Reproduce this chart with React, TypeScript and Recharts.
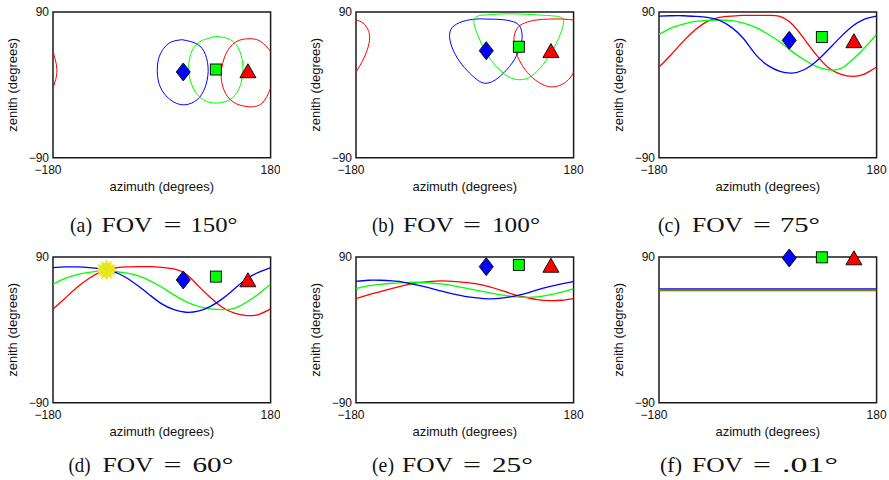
import { ComposedChart, Line, Scatter, XAxis, YAxis, ReferenceArea } from 'recharts'

const BLUE = '#0000ff'
const GREEN = '#00ff00'
const RED = '#ff0000'
const SANS = 'Liberation Sans, Arial, Helvetica, sans-serif'
const SERIF = 'Liberation Serif, Times New Roman, serif'

// azimuth samples for the open traces (panels c-e)
const AZ_GRID = [-180, -160, -140, -120, -100, -80, -60, -40, -20, 0, 20, 40, 60, 80, 100, 120, 140, 160, 180]
const AZ_ENDS = [-180, 180]

// camera azimuths: diamond, square, triangle
const CAM_AZ = [35.5, 89.5, 142.5]

// (a) FOV 150 — closed outlines as [azimuth, zenith]
const A_BLUE = [[33.7, 55.8], [58.5, 50.4], [72.3, 37.3], [76.7, 16.7], [71.2, -3.9], [58.5, -18.3], [39.2, -24.5], [19.9, -21.2], [3.3, -10.1], [-6.1, 6.4], [-6.7, 27], [0.5, 42.2], [14.3, 52.5], [33.7, 55.8]]
const A_GREEN = [[88.9, 59.9], [113.7, 55.8], [129.2, 41.4], [134.2, 20.8], [130.3, 0.2], [116.5, -16.3], [91.7, -22.4], [68.5, -18.3], [51.9, -3.9], [44.7, 16.7], [47.5, 37.3], [61.3, 52.5], [88.9, 59.9]]
const A_RED = [[180, 41.4], [163.4, 53.7], [144.1, 57], [122, 52.9], [105.5, 37.3], [98.3, 14.6], [102.7, -6], [118.2, -21.2], [144.1, -27], [166.2, -22.4], [180, -3.9]]
const A_RED_WRAP = [[-180, 41.4], [-176.2, 31.1], [-173.5, 18.7], [-175.7, 6.4], [-180, -3.9]]
const A_CAM_ZEN = [16, 19, 17.5]

// (b) FOV 100
const B_BLUE = [[35.5, 81.3], [63, 80.5], [85.1, 76.4], [93.4, 68.1], [94.5, 55.8], [87.8, 39.3], [74.1, 22.9], [54.8, 8.4], [38.2, 2.3], [24.5, 4.3], [7.9, 14.6], [-8.6, 29], [-20.7, 45.5], [-25.2, 59.9], [-20.7, 71], [-3.1, 78.4], [19, 81.3], [35.5, 81.3]]
const B_GREEN = [[24.5, 85.8], [57.5, 87.5], [90.6, 87.5], [134.7, 85.8], [159.5, 83.4], [163.4, 76.4], [157.8, 62], [145.7, 43.4], [129.2, 24.9], [109.9, 10.5], [90.6, 6.4], [71.3, 10.5], [52, 22.9], [35.5, 39.3], [23.4, 57.8], [15.6, 74.3], [16.2, 82.5], [24.5, 85.8]]
const B_RED = [[180, 80.1], [162.3, 81.3], [140.2, 81.3], [118.2, 80.1], [98.9, 76.4], [86.2, 69.4], [81.2, 55.8], [85.1, 39.3], [96.1, 22.9], [112.6, 8.4], [132, -0.6], [148.5, -2.3], [165, 2.3], [176, 10.5], [180, 15.9]]
const B_RED_WRAP = [[-180, 80.1], [-168.5, 76.4], [-160.2, 68.1], [-157.4, 57.8], [-161.3, 43.4], [-169.6, 29], [-180, 15.9]]
const B_CAM_ZEN = [42.2, 47.1, 42.4]

// (c) FOV 75 — zenith at AZ_GRID
const C_BLUE = [85, 85.4, 85.4, 84.6, 83.4, 79.7, 71, 57, 37.3, 24.1, 16.7, 14.6, 18.7, 29, 43.4, 58.7, 72.3, 81.3, 85]
const C_GREEN = [62.5, 70.2, 75.1, 78.4, 79.7, 80.1, 79.3, 76.4, 71, 62.8, 52.9, 41.4, 31.1, 22.9, 18.7, 20, 31.1, 45.5, 62.5]
const C_RED = [22, 37.3, 53.7, 68.1, 78.4, 83.4, 85, 85.8, 85.8, 85.8, 84.6, 75.1, 57, 37.3, 21.6, 13.4, 10.5, 13.4, 22]
const C_CAM_ZEN = [55, 59.1, 54.6]

// (d) FOV 60
const D_BLUE = [77, 77.7, 77.7, 76.9, 75.2, 72, 65, 54.7, 43.2, 32.1, 25.1, 21.8, 23.1, 28.8, 38.3, 50.6, 62.9, 71.1, 77]
const D_GREEN = [56.3, 63.7, 68.3, 71.1, 72.8, 72.4, 70.3, 67, 60.9, 52.6, 43.2, 35, 29.2, 25.9, 25.1, 26.7, 34.2, 44.4, 56.3]
const D_RED = [25.9, 39.1, 52.6, 63.7, 72, 76.1, 77.7, 78.1, 78.1, 77.3, 75.2, 69.1, 54.7, 40.3, 28, 20.6, 17.7, 19, 25.9]
const D_CAM_ZEN = [61.7, 65.8, 61.9]
const SUN = { az: -91.5, zen: 74 }

// (e) FOV 25
const E_BLUE = [59.8, 61.3, 61.3, 60.5, 58.8, 55.5, 52.2, 48.1, 44.4, 41.5, 39.5, 38.3, 39.1, 41.5, 44.8, 49.4, 53.5, 56.8, 59.8]
const E_GREEN = [51, 54.3, 56.3, 57.6, 58.4, 58.8, 58, 56.8, 54.7, 51.8, 48.9, 46.1, 43.2, 41.1, 40.3, 40.7, 43.2, 46.5, 51]
const E_RED = [38.7, 43.2, 47.3, 51.4, 55.1, 58, 59.6, 60.5, 60, 58.8, 56.8, 53.5, 48.9, 44, 40.3, 37.4, 36.2, 36.6, 38.7]
const E_CAM_ZEN = [78.1, 80.2, 79.8]

// (f) FOV .01
const F_BLUE = [50.6, 50.6]
const F_GREEN = [49.4, 49.4]
const F_RED = [48.5, 48.5]
const F_CAM_ZEN = [88.8, 89.6, 89]

const TAGS = ['(a)', '(b)', '(c)', '(d)', '(e)', '(f)']
const FOVS = ['150°', '100°', '75°', '60°', '25°', '.01°']

type Pt = { az: number; zen: number }
const pairs = (p: number[][]): Pt[] => p.map(([az, zen]) => ({ az, zen }))
const trace = (az: number[], zen: number[]): Pt[] => az.map((a, i) => ({ az: a, zen: zen[i] }))

type Series = { color: string; data: Pt[] }
type PanelDef = {
  left: number
  top: number
  series: Series[]
  camZen: number[]
  sun?: boolean
  lw: number
  capX: number[]
  fovW: number
  capDy: number
}

const PW = 217.6
const PH = 145.8
const ML = 60
const MT = 12

const PANELS: PanelDef[] = [
  {
    left: 52.7, top: 12, lw: 1,
    series: [
      { color: BLUE, data: pairs(A_BLUE) },
      { color: GREEN, data: pairs(A_GREEN) },
      { color: RED, data: pairs(A_RED) },
      { color: RED, data: pairs(A_RED_WRAP) },
    ],
    camZen: A_CAM_ZEN, capX: [17, 48.5, 110.5, 137.5], fovW: 47, capDy: 74.3,
  },
  {
    left: 356, top: 12, lw: 1,
    series: [
      { color: BLUE, data: pairs(B_BLUE) },
      { color: GREEN, data: pairs(B_GREEN) },
      { color: RED, data: pairs(B_RED) },
      { color: RED, data: pairs(B_RED_WRAP) },
    ],
    camZen: B_CAM_ZEN, capX: [16, 47, 107, 136], fovW: 48, capDy: 74.3,
  },
  {
    left: 659, top: 12, lw: 1.3,
    series: [
      { color: RED, data: trace(AZ_GRID, C_RED) },
      { color: GREEN, data: trace(AZ_GRID, C_GREEN) },
      { color: BLUE, data: trace(AZ_GRID, C_BLUE) },
    ],
    camZen: C_CAM_ZEN, capX: [-1, 33, 94, 121], fovW: 40, capDy: 74.3,
  },
  {
    left: 52.7, top: 256.7, lw: 1.3,
    series: [
      { color: RED, data: trace(AZ_GRID, D_RED) },
      { color: GREEN, data: trace(AZ_GRID, D_GREEN) },
      { color: BLUE, data: trace(AZ_GRID, D_BLUE) },
    ],
    camZen: D_CAM_ZEN, sun: true, capX: [15.5, 49.5, 110.5, 139.5], fovW: 41, capDy: 69.6,
  },
  {
    left: 356, top: 256.7, lw: 1.3,
    series: [
      { color: RED, data: trace(AZ_GRID, E_RED) },
      { color: GREEN, data: trace(AZ_GRID, E_GREEN) },
      { color: BLUE, data: trace(AZ_GRID, E_BLUE) },
    ],
    camZen: E_CAM_ZEN, capX: [16, 46, 107, 136], fovW: 41, capDy: 69.6,
  },
  {
    left: 659, top: 256.7, lw: 1.3,
    series: [
      { color: RED, data: trace(AZ_ENDS, F_RED) },
      { color: GREEN, data: trace(AZ_ENDS, F_GREEN) },
      { color: BLUE, data: trace(AZ_ENDS, F_BLUE) },
    ],
    camZen: F_CAM_ZEN, capX: [1, 33, 94, 123], fovW: 56, capDy: 69.6,
  },
]

const num = (v: number) => (v < 0 ? '\u2212' + Math.abs(v) : String(v))

const XTick = (p: any) => (
  <text x={p.x + (p.payload.value < 0 ? -5 : 0)} y={p.y + 16.5} textAnchor="middle" fontSize={12} fontFamily={SANS} fill="#111">
    {num(p.payload.value)}
  </text>
)

const YTick = (p: any) => (
  <text x={p.x - 4} y={p.y + 4.3} textAnchor="end" fontSize={12} fontFamily={SANS} fill="#111">
    {num(p.payload.value)}
  </text>
)

const Diamond = (p: any) => (
  <polygon points={`${p.cx},${p.cy - 9} ${p.cx + 7},${p.cy} ${p.cx},${p.cy + 9} ${p.cx - 7},${p.cy}`} fill={BLUE} stroke="#111" strokeWidth={1} />
)
const Square = (p: any) => (
  <rect x={p.cx - 5.5} y={p.cy - 5.5} width={11} height={11} fill={GREEN} stroke="#111" strokeWidth={1} />
)
const Triangle = (p: any) => (
  <polygon points={`${p.cx},${p.cy - 7} ${p.cx + 8},${p.cy + 7} ${p.cx - 8},${p.cy + 7}`} fill={RED} stroke="#111" strokeWidth={1} />
)
const Sun = (p: any) => {
  const pts: string[] = []
  for (let i = 0; i < 24; i++) {
    const r = i % 2 === 0 ? 10.5 : 7
    const a = (Math.PI * i) / 12 - Math.PI / 2
    pts.push(`${p.cx + r * Math.cos(a)},${p.cy + r * Math.sin(a)}`)
  }
  return <polygon points={pts.join(' ')} fill="#e6e61c" stroke="#f3f37a" strokeWidth={1} />
}

function Panel({ def, idx }: { def: PanelDef; idx: number }) {
  const xTitle = (lp: any) => {
    const vb = lp.viewBox
    const cy = vb.y + def.capDy
    const x0 = vb.x
    return (
      <g>
        <text x={vb.x + vb.width / 2} y={vb.y + 33} textAnchor="middle" fontSize={13} fontFamily={SANS} fill="#111">
          azimuth (degrees)
        </text>
        <g fontFamily={SERIF} fontSize={20} fill="#111">
          <text x={x0 + def.capX[0]} y={cy} textLength={22} lengthAdjust="spacingAndGlyphs">{TAGS[idx]}</text>
          <text x={x0 + def.capX[1]} y={cy} textLength={51} lengthAdjust="spacingAndGlyphs">FOV</text>
          <text x={x0 + def.capX[2]} y={cy} textLength={18} lengthAdjust="spacingAndGlyphs">=</text>
          <text x={x0 + def.capX[3]} y={cy} textLength={def.fovW} lengthAdjust="spacingAndGlyphs">{FOVS[idx]}</text>
        </g>
      </g>
    )
  }
  const yTitle = (lp: any) => {
    const vb = lp.viewBox
    const x = vb.x + 4.5
    const y = vb.y + vb.height / 2
    return (
      <text x={x} y={y} transform={`rotate(-90 ${x} ${y})`} textAnchor="middle" fontSize={13} fontFamily={SANS} fill="#111">
        zenith (degrees)
      </text>
    )
  }
  return (
    <div style={{ position: 'absolute', left: def.left - ML, top: def.top - MT }}>
      <ComposedChart width={PW + ML + 10} height={PH + MT + 30 + 60} margin={{ top: MT, right: 10, bottom: 60, left: ML - 40 }}>
        <XAxis
          type="number"
          dataKey="az"
          domain={[-180, 180]}
          ticks={[-180, 180]}
          interval={0}
          allowDataOverflow
          axisLine={false}
          tickLine={false}
          tickSize={0}
          tickMargin={0}
          height={30}
          tick={XTick}
          label={{ content: xTitle }}
        />
        <YAxis
          type="number"
          domain={[-90, 90]}
          ticks={[-90, 90]}
          interval={0}
          allowDataOverflow
          axisLine={false}
          tickLine={false}
          tickSize={0}
          tickMargin={0}
          width={40}
          tick={YTick}
          label={{ content: yTitle }}
        />
        {/* unclipped axes for the markers, which may sit on the frame */}
        <XAxis xAxisId="m" type="number" dataKey="az" domain={[-180, 180]} hide />
        <YAxis yAxisId="m" type="number" domain={[-90, 90]} hide />
        {def.series.map((s, i) => (
          <Line
            key={i}
            data={s.data}
            dataKey="zen"
            type="natural"
            stroke={s.color}
            strokeWidth={def.lw}
            dot={false}
            activeDot={false}
            isAnimationActive={false}
          />
        ))}
        <ReferenceArea x1={-180} x2={180} y1={-90} y2={90} fill="none" stroke="#1a1a1a" strokeWidth={1.5} ifOverflow="visible" />
        {def.sun && (
          <Scatter xAxisId="m" yAxisId="m" data={[SUN]} dataKey="zen" shape={Sun} isAnimationActive={false} />
        )}
        <Scatter xAxisId="m" yAxisId="m" data={[{ az: CAM_AZ[0], zen: def.camZen[0] }]} dataKey="zen" shape={Diamond} isAnimationActive={false} />
        <Scatter xAxisId="m" yAxisId="m" data={[{ az: CAM_AZ[1], zen: def.camZen[1] }]} dataKey="zen" shape={Square} isAnimationActive={false} />
        <Scatter xAxisId="m" yAxisId="m" data={[{ az: CAM_AZ[2], zen: def.camZen[2] }]} dataKey="zen" shape={Triangle} isAnimationActive={false} />
      </ComposedChart>
    </div>
  )
}

export default function App() {
  return (
    <div style={{ position: 'absolute', left: 0, top: 0, width: 889, height: 480, background: '#fff', overflow: 'hidden' }}>
      {PANELS.map((p, i) => (
        <Panel key={i} def={p} idx={i} />
      ))}
    </div>
  )
}
